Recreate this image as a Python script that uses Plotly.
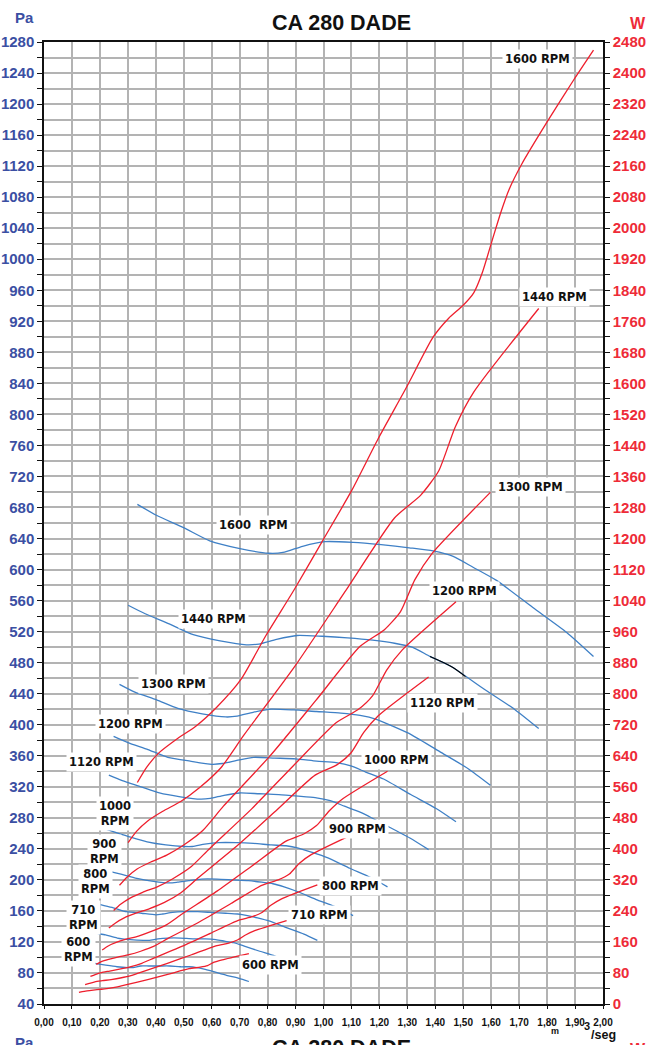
import plotly.graph_objects as go

# --- DATA: fan curves for CA 280 DADE, flow in m3/s ---
# pressure curves (Pa)
q_pa_1600 = [0.334, 0.402, 0.499, 0.593, 0.701, 0.804, 0.855, 0.925, 1.005, 1.106, 1.206, 1.307, 1.392, 1.464, 1.535, 1.619, 1.749, 1.87, 1.966]
pa_1600 = [684, 670, 654, 637, 627, 621, 622, 630, 636, 635, 632, 628, 624, 617, 603, 586, 551, 519, 488]
q_pa_1440 = [0.301, 0.362, 0.448, 0.534, 0.63, 0.724, 0.769, 0.832, 0.905, 0.995, 1.086, 1.176, 1.254, 1.317, 1.381, 1.457, 1.574, 1.683, 1.77]
pa_1440 = [554, 543, 530, 516, 508, 503, 504, 510, 515, 514, 512, 509, 505, 500, 488, 475, 446, 420, 395]
q_pa_1300 = [0.27, 0.325, 0.403, 0.479, 0.566, 0.65, 0.691, 0.748, 0.813, 0.894, 0.975, 1.062, 1.131, 1.189, 1.248, 1.315, 1.422, 1.519, 1.597]
pa_1300 = [452, 442, 432, 421, 414, 410, 411, 416, 420, 419, 417, 415, 412, 407, 398, 387, 364, 343, 322]
q_pa_1200 = [0.249, 0.3, 0.372, 0.443, 0.523, 0.6, 0.638, 0.69, 0.75, 0.825, 0.9, 0.975, 1.045, 1.098, 1.151, 1.215, 1.312, 1.403, 1.474]
pa_1200 = [385, 377, 368, 358, 353, 349, 350, 354, 358, 357, 356, 353, 351, 347, 339, 330, 310, 292, 275]
q_pa_1120 = [0.232, 0.28, 0.347, 0.413, 0.488, 0.56, 0.595, 0.644, 0.7, 0.77, 0.84, 0.91, 0.97, 1.024, 1.075, 1.133, 1.225, 1.309, 1.376]
pa_1120 = [335, 328, 320, 312, 307, 304, 305, 309, 312, 311, 310, 308, 306, 302, 295, 287, 270, 254, 239]
q_pa_1000 = [0.208, 0.25, 0.31, 0.369, 0.436, 0.5, 0.531, 0.575, 0.625, 0.688, 0.75, 0.813, 0.866, 0.91, 0.954, 1.011, 1.094, 1.169, 1.229]
pa_1000 = [267, 262, 255, 249, 245, 243, 243, 246, 248, 248, 247, 245, 244, 241, 236, 229, 215, 203, 191]
q_pa_900 = [0.187, 0.225, 0.279, 0.332, 0.392, 0.45, 0.478, 0.518, 0.563, 0.619, 0.675, 0.731, 0.779, 0.819, 0.859, 0.906, 0.979, 1.052, 1.106]
pa_900 = [216, 212, 207, 202, 198, 196, 197, 199, 201, 201, 200, 199, 197, 195, 191, 185, 174, 164, 154]
q_pa_800 = [0.166, 0.2, 0.248, 0.295, 0.349, 0.4, 0.425, 0.46, 0.5, 0.55, 0.6, 0.65, 0.693, 0.728, 0.764, 0.805, 0.87, 0.93, 0.978]
pa_800 = [171, 168, 164, 159, 157, 155, 156, 158, 159, 159, 158, 157, 156, 154, 151, 147, 138, 130, 122]
q_pa_710 = [0.147, 0.178, 0.22, 0.262, 0.309, 0.355, 0.377, 0.408, 0.444, 0.488, 0.533, 0.577, 0.615, 0.646, 0.678, 0.714, 0.772, 0.825, 0.868]
pa_710 = [135, 132, 129, 125, 123, 122, 122, 124, 125, 125, 124, 124, 123, 121, 119, 115, 108, 102, 96]
q_pa_600 = [0.125, 0.15, 0.186, 0.221, 0.261, 0.3, 0.319, 0.345, 0.375, 0.413, 0.45, 0.488, 0.519, 0.546, 0.573, 0.604, 0.653, 0.698, 0.733]
pa_600 = [96, 94, 92, 90, 88, 87, 87, 89, 89, 89, 89, 88, 88, 87, 85, 82, 77, 73, 69]

# short black piece on the 1440 pressure curve
q_seg = [1.381, 1.457, 1.508]
pa_seg = [488, 475, 462]

# absorbed power curves (W)
q_w_1600 = [0.334, 0.367, 0.412, 0.473, 0.543, 0.618, 0.704, 0.794, 0.895, 0.995, 1.101, 1.196, 1.297, 1.392, 1.448, 1.498, 1.538, 1.568, 1.604, 1.634, 1.664, 1.709, 1.80, 1.895, 1.966]
w_1600 = [571, 610, 648, 682, 716, 765, 836, 950, 1068, 1192, 1324, 1458, 1590, 1719, 1768, 1800, 1834, 1885, 1970, 2040, 2100, 2165, 2274, 2382, 2459]
q_w_1440 = [0.301, 0.331, 0.371, 0.425, 0.489, 0.557, 0.633, 0.715, 0.896, 1.077, 1.254, 1.348, 1.412, 1.471, 1.538, 1.77]
w_1440 = [416, 445, 472, 497, 522, 558, 609, 693, 869, 1063, 1253, 1312, 1374, 1487, 1578, 1793]
q_w_1300 = [0.27, 0.297, 0.333, 0.382, 0.439, 0.5, 0.569, 0.642, 0.808, 0.972, 1.131, 1.218, 1.275, 1.327, 1.388, 1.597]
w_1300 = [306, 327, 348, 366, 384, 410, 448, 510, 639, 782, 922, 965, 1011, 1094, 1161, 1319]
q_w_1200 = [0.249, 0.274, 0.308, 0.353, 0.405, 0.461, 0.525, 0.593, 0.743, 0.893, 1.045, 1.124, 1.176, 1.226, 1.282, 1.474]
w_1200 = [241, 257, 273, 288, 302, 323, 353, 401, 503, 615, 725, 759, 795, 861, 913, 1037]
q_w_1120 = [0.232, 0.256, 0.287, 0.329, 0.378, 0.431, 0.49, 0.553, 0.693, 0.833, 0.970, 1.049, 1.098, 1.144, 1.196, 1.376]
w_1120 = [196, 209, 222, 234, 246, 262, 287, 326, 409, 500, 590, 617, 647, 700, 743, 843]
q_w_1000 = [0.208, 0.228, 0.256, 0.294, 0.338, 0.384, 0.438, 0.494, 0.619, 0.744, 0.866, 0.931, 0.975, 1.021, 1.069, 1.229]
w_1000 = [139, 149, 158, 167, 175, 187, 204, 232, 291, 356, 420, 439, 460, 498, 529, 600]
q_w_900 = [0.187, 0.205, 0.231, 0.264, 0.304, 0.346, 0.394, 0.444, 0.557, 0.669, 0.779, 0.838, 0.878, 0.914, 0.956, 1.106]
w_900 = [102, 109, 115, 121, 127, 136, 149, 169, 212, 259, 306, 320, 335, 363, 385, 438]
q_w_800 = [0.166, 0.183, 0.205, 0.235, 0.27, 0.308, 0.35, 0.395, 0.495, 0.595, 0.693, 0.745, 0.78, 0.813, 0.85, 0.978]
w_800 = [71, 76, 81, 85, 90, 96, 105, 119, 149, 182, 215, 225, 236, 255, 271, 307]
q_w_710 = [0.147, 0.162, 0.182, 0.209, 0.24, 0.273, 0.311, 0.351, 0.439, 0.528, 0.615, 0.661, 0.692, 0.721, 0.754, 0.868]
w_710 = [50, 53, 57, 60, 63, 67, 73, 83, 104, 127, 150, 157, 165, 178, 189, 215]
q_w_600 = [0.125, 0.137, 0.154, 0.176, 0.203, 0.231, 0.263, 0.296, 0.371, 0.446, 0.519, 0.559, 0.585, 0.609, 0.638, 0.733]
w_600 = [30, 32, 34, 36, 38, 40, 44, 50, 63, 77, 91, 95, 99, 108, 114, 130]

x_ticks = [i / 10 for i in range(21)]
x_tick_text = [f"{v:.2f}".replace(".", ",") for v in x_ticks]

pressure = [(q_pa_1600, pa_1600), (q_pa_1440, pa_1440), (q_pa_1300, pa_1300), (q_pa_1200, pa_1200),
            (q_pa_1120, pa_1120), (q_pa_1000, pa_1000), (q_pa_900, pa_900), (q_pa_800, pa_800),
            (q_pa_710, pa_710), (q_pa_600, pa_600)]
power = [(q_w_1600, w_1600), (q_w_1440, w_1440), (q_w_1300, w_1300), (q_w_1200, w_1200),
         (q_w_1120, w_1120), (q_w_1000, w_1000), (q_w_900, w_900), (q_w_800, w_800),
         (q_w_710, w_710), (q_w_600, w_600)]

BLUE = '#3f80c6'
RED = '#ee1f2d'
TXT_BLUE = '#3b4fa3'
TXT_RED = '#ee2b38'
GRID = '#b3b3b3'

fig = go.Figure()

for q, p in pressure:
    fig.add_trace(go.Scatter(x=q, y=p, mode='lines', yaxis='y',
                             line=dict(color=BLUE, width=1.3, shape='spline', smoothing=0.6)))
fig.add_trace(go.Scatter(x=q_seg, y=pa_seg, mode='lines', yaxis='y',
                         line=dict(color='black', width=1.1, shape='spline')))
for q, w in power:
    fig.add_trace(go.Scatter(x=q, y=w, mode='lines', yaxis='y2',
                             line=dict(color=RED, width=1.3, shape='spline', smoothing=0.6)))

# --- labels (white boxes hide the lines behind them, like the original sheet) ---
lab_font = dict(family='DejaVu Sans', size=11.5, color='#111', weight='bold')
labels = [
    # red (power) labels
    (1.767, 1258, "1600 RPM"), (1.825, 951, "1440 RPM"), (1.739, 706, "1300 RPM"),
    (1.506, 572, "1200 RPM"), (1.424, 428, "1120 RPM"), (1.261, 354, "1000 RPM"),
    (1.12, 266, "900 RPM"), (1.095, 192, "800 RPM"), (0.987, 155, "710 RPM"),
    (0.812, 90, "600 RPM"),
    # blue (pressure) labels
    (0.751, 657, "1600  RPM"), (0.608, 536, "1440 RPM"), (0.465, 452, "1300 RPM"),
    (0.308, 401, "1200 RPM"), (0.204, 352, "1120 RPM"), (0.254, 286, "1000<br>RPM"),
    (0.215, 237, "900<br>RPM"), (0.186, 198, "800<br>RPM"), (0.143, 152, "710<br>RPM"),
    (0.122, 110, "600<br>RPM"),
]
for x, y, t in labels:
    fig.add_annotation(x=x, y=y, xref='x', yref='y', text=t, showarrow=False,
                       font=lab_font, bgcolor='white', borderpad=2, align='center')

# header / units (paper coords, centred)
head = dict(family='Liberation Sans, Arial', weight='bold')
paper_texts = [
    (0.533, 1.0198, "CA 280 DADE", 21.5, '#111'),
    (-0.034, 1.025, "Pa", 15, TXT_BLUE),
    (1.0626, 1.0188, "W", 16, TXT_RED),
    # top of the next sheet, cut off at the bottom of the page
    (0.533, -0.0457, "CA 280 DADE", 21.5, '#111'),
    (-0.034, -0.0405, "Pa", 15, TXT_BLUE),
    (1.0626, -0.0468, "W", 16, TXT_RED),
    # flow unit
    (0.9141, -0.0285, "m", 9, '#111'),
    (1.0005, -0.0322, "/seg", 12.5, '#111'),
    (0.9714, -0.0229, "3", 11, '#111'),
]
for x, y, t, s, c in paper_texts:
    fig.add_annotation(x=x, y=y, xref='paper', yref='paper', text=t, showarrow=False,
                       xanchor='center', yanchor='middle',
                       font=dict(**head, size=s, color=c))

fig.update_layout(
    width=653, height=1045,
    margin=dict(l=44, r=50, t=42, b=41, autoexpand=False),
    paper_bgcolor='white', plot_bgcolor='white',
    showlegend=False,
    xaxis=dict(range=[0, 2.0], tickvals=x_ticks, ticktext=x_tick_text, automargin=False,
               tickfont=dict(family='Liberation Sans, Arial', size=10, color='#111', weight='bold'),
               showgrid=True, gridcolor=GRID, gridwidth=1.6, zeroline=False,
               showline=True, linecolor='#111', linewidth=1.5, mirror=True,
               ticks='outside', ticklen=3, tickcolor='#111', ticklabelstandoff=5),
    yaxis=dict(range=[40, 1280], tick0=40, dtick=40, automargin=False,
               tickfont=dict(family='Liberation Sans, Arial', size=15, color=TXT_BLUE, weight='bold'),
               showgrid=True, gridcolor=GRID, gridwidth=1.6, zeroline=False,
               showline=True, linecolor='#111', linewidth=1.5,
               ticks='outside', ticklen=5, tickcolor='#111',
               minor=dict(dtick=20, showgrid=True, gridcolor=GRID, gridwidth=1.6,
                          ticks='outside', ticklen=5, tickcolor='#111')),
    yaxis2=dict(range=[0, 2480], tick0=0, dtick=80, overlaying='y', side='right', automargin=False,
                tickfont=dict(family='Liberation Sans, Arial', size=15, color=TXT_RED, weight='bold'),
                showgrid=False, zeroline=False,
                showline=True, linecolor='#111', linewidth=1.5,
                ticks='outside', ticklen=5, tickcolor='#111',
                minor=dict(dtick=40, ticks='outside', ticklen=5, tickcolor='#111')),
)

# page body has an 8px default margin; drop it so the figure fills the window
fig.write_html("out.html", config={'displayModeBar': False},
               post_script="document.body.style.margin='0';document.body.style.overflow='hidden';")
